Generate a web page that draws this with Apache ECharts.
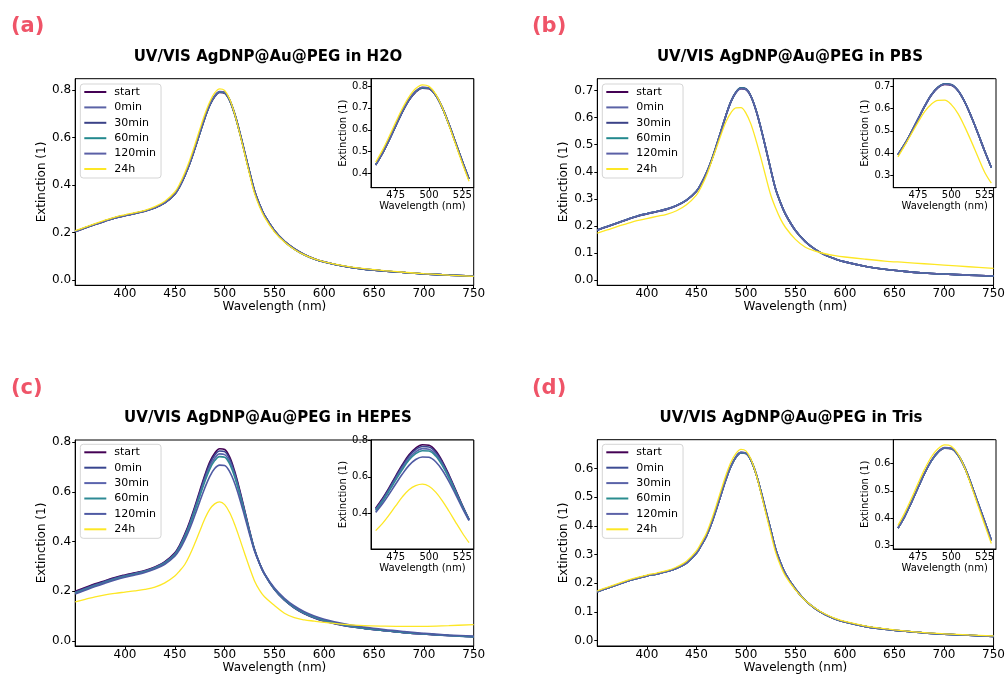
<!DOCTYPE html>
<html><head><meta charset="utf-8">
<script src="https://cdn.jsdelivr.net/npm/echarts@6/dist/echarts.min.js"></script>
<style>html,body{margin:0;padding:0;background:#fff}#c{width:1008px;height:675px}</style>
</head><body><div id="c"></div>
<script>
// ---------- DATA ----------
const wavelengths = [350,360,370,380,390,400,410,420,430,440,450,455,460,465,470,475,480,485,490,495,500,505,510,515,520,525,530,535,540,550,560,570,580,590,600,620,640,660,680,700,725,750];
const seriesNames = ['start','0min','30min','60min','120min','24h'];

// (a) H2O
const a_start = [.204,.219,.234,.248,.261,.271,.280,.290,.304,.325,.362,.395,.439,.491,.552,.617,.681,.735,.772,.790,.787,.757,.700,.624,.540,.456,.376,.319,.273,.209,.164,.132,.108,.090,.077,.058,.046,.038,.032,.026,.021,.017];
const a_0min = [.205,.220,.235,.249,.262,.272,.281,.291,.305,.326,.363,.396,.440,.492,.553,.618,.682,.737,.774,.792,.789,.758,.700,.624,.540,.455,.375,.318,.272,.208,.163,.131,.107,.089,.076,.058,.046,.038,.032,.026,.021,.017];
const a_30min = [.205,.220,.235,.249,.262,.272,.281,.291,.305,.326,.363,.396,.440,.492,.553,.618,.682,.737,.775,.793,.790,.758,.700,.624,.540,.455,.375,.318,.272,.208,.163,.131,.107,.089,.076,.058,.046,.038,.032,.026,.021,.017];
const a_60min = [.205,.220,.235,.249,.262,.272,.281,.291,.305,.326,.363,.396,.440,.492,.553,.618,.682,.737,.774,.792,.789,.758,.700,.624,.540,.455,.375,.318,.272,.208,.163,.131,.107,.089,.076,.058,.046,.038,.032,.026,.021,.017];
const a_120min = [.205,.220,.235,.249,.262,.272,.281,.291,.305,.326,.363,.396,.440,.492,.553,.619,.683,.738,.775,.794,.790,.759,.701,.625,.540,.455,.375,.318,.272,.208,.163,.131,.107,.089,.076,.058,.046,.038,.032,.026,.021,.017];
const a_24h = [.208,.223,.238,.252,.265,.275,.284,.294,.309,.332,.371,.406,.452,.506,.568,.634,.697,.750,.788,.805,.798,.763,.700,.620,.533,.446,.365,.309,.265,.203,.160,.129,.106,.089,.077,.060,.048,.040,.033,.027,.021,.016];

// (b) PBS
const b_start = [.184,.197,.210,.223,.235,.244,.252,.261,.274,.294,.327,.356,.393,.439,.493,.551,.609,.659,.693,.707,.704,.679,.629,.563,.488,.410,.336,.285,.243,.183,.142,.113,.092,.078,.067,.051,.040,.032,.026,.022,.018,.015];
const b_0min = [.185,.198,.211,.224,.236,.245,.253,.262,.275,.295,.328,.357,.394,.440,.494,.552,.610,.660,.694,.709,.706,.680,.630,.563,.488,.410,.336,.285,.243,.183,.142,.113,.092,.078,.067,.051,.040,.032,.026,.022,.018,.015];
const b_30min = [.185,.198,.211,.224,.236,.245,.253,.262,.275,.295,.328,.357,.394,.440,.494,.552,.610,.661,.695,.710,.707,.680,.630,.563,.488,.410,.336,.285,.243,.183,.142,.113,.092,.078,.067,.051,.040,.032,.026,.022,.018,.015];
const b_60min = [.185,.198,.211,.224,.236,.245,.253,.262,.275,.295,.328,.357,.394,.440,.494,.552,.610,.660,.694,.709,.706,.680,.630,.563,.488,.410,.336,.285,.243,.183,.142,.113,.092,.078,.067,.051,.040,.032,.026,.022,.018,.015];
const b_120min = [.185,.198,.211,.224,.236,.245,.253,.262,.275,.295,.328,.357,.394,.440,.494,.552,.610,.660,.693,.708,.705,.680,.630,.563,.488,.410,.336,.285,.243,.183,.142,.113,.092,.078,.067,.051,.040,.032,.026,.022,.018,.015];
const b_24h = [.173,.185,.197,.208,.219,.227,.235,.243,.256,.278,.314,.345,.384,.434,.486,.538,.586,.619,.636,.637,.617,.577,.519,.453,.383,.315,.266,.225,.194,.150,.121,.107,.097,.090,.085,.077,.070,.065,.060,.055,.049,.043];

// (c) HEPES
const c_start = [.200,.215,.230,.243,.256,.266,.275,.284,.298,.319,.355,.387,.430,.481,.540,.604,.666,.720,.756,.774,.771,.741,.684,.610,.528,.445,.369,.314,.270,.208,.165,.134,.111,.094,.081,.063,.051,.042,.034,.028,.022,.017];
const c_0min = [.197,.212,.227,.241,.254,.264,.273,.282,.296,.317,.352,.384,.426,.476,.535,.598,.659,.712,.748,.765,.762,.733,.677,.605,.524,.442,.367,.312,.269,.207,.164,.133,.110,.093,.080,.062,.051,.042,.034,.028,.022,.017];
const c_30min = [.194,.209,.224,.238,.251,.262,.271,.281,.295,.315,.349,.380,.421,.470,.528,.589,.649,.701,.736,.753,.750,.722,.668,.598,.519,.439,.366,.312,.269,.208,.166,.135,.112,.095,.082,.063,.051,.042,.034,.028,.021,.016];
const c_60min = [.192,.207,.222,.236,.249,.260,.269,.279,.293,.313,.346,.377,.417,.465,.522,.582,.640,.691,.726,.742,.740,.713,.661,.593,.516,.438,.366,.313,.270,.210,.168,.137,.114,.097,.084,.065,.052,.043,.035,.029,.022,.017];
const c_120min = [.189,.204,.219,.233,.246,.257,.266,.276,.290,.309,.341,.369,.407,.452,.505,.561,.615,.662,.694,.708,.706,.682,.636,.574,.503,.430,.362,.312,.271,.213,.172,.141,.118,.101,.088,.069,.056,.046,.038,.031,.024,.020];
const c_24h = [.158,.168,.178,.186,.192,.197,.202,.208,.217,.234,.262,.283,.308,.346,.392,.442,.491,.530,.552,.560,.549,.517,.470,.413,.353,.295,.242,.205,.178,.143,.112,.094,.085,.080,.075,.067,.062,.060,.059,.059,.062,.066];

// (d) Tris
const d_start = [.171,.183,.195,.207,.217,.226,.233,.241,.253,.271,.305,.333,.364,.406,.457,.511,.564,.609,.640,.655,.653,.630,.585,.523,.455,.388,.320,.272,.233,.180,.140,.112,.091,.076,.065,.050,.040,.033,.027,.023,.019,.015];
const d_0min = [.171,.183,.195,.207,.217,.226,.233,.241,.253,.271,.305,.333,.364,.406,.457,.511,.564,.609,.641,.656,.654,.630,.585,.523,.455,.388,.320,.272,.233,.180,.140,.112,.091,.076,.065,.050,.040,.033,.027,.023,.019,.015];
const d_30min = [.171,.183,.195,.207,.217,.226,.233,.241,.253,.271,.305,.333,.364,.406,.457,.511,.564,.609,.641,.656,.654,.630,.585,.523,.455,.388,.320,.272,.233,.180,.140,.112,.091,.076,.065,.050,.040,.033,.027,.023,.019,.015];
const d_60min = [.171,.183,.195,.207,.217,.226,.233,.241,.253,.271,.305,.333,.364,.406,.457,.511,.564,.609,.641,.656,.654,.630,.585,.523,.455,.388,.320,.272,.233,.180,.140,.112,.091,.076,.065,.050,.040,.033,.027,.023,.019,.015];
const d_120min = [.171,.183,.195,.207,.217,.226,.233,.241,.253,.271,.305,.333,.364,.406,.457,.511,.564,.610,.642,.657,.655,.631,.585,.523,.455,.388,.320,.272,.233,.180,.140,.112,.091,.076,.065,.050,.040,.033,.027,.023,.019,.015];
const d_24h = [.174,.186,.198,.210,.220,.229,.236,.244,.257,.277,.313,.342,.374,.419,.471,.526,.579,.623,.653,.667,.662,.634,.584,.517,.446,.376,.308,.261,.225,.177,.140,.113,.093,.078,.067,.052,.042,.034,.028,.024,.020,.017];

// tick labels
const mainXTicks = [400,450,500,550,600,650,700,750];
const insetXTicks = [475,500,525];
const aMainYTicks = [0.0,0.2,0.4,0.6,0.8];
const aInsetYTicks = [0.4,0.5,0.6,0.7,0.8];
const bMainYTicks = [0.0,0.1,0.2,0.3,0.4,0.5,0.6,0.7];
const bInsetYTicks = [0.3,0.4,0.5,0.6,0.7];
const cMainYTicks = [0.0,0.2,0.4,0.6,0.8];
const cInsetYTicks = [0.4,0.6,0.8];
const dMainYTicks = [0.0,0.1,0.2,0.3,0.4,0.5,0.6];
const dInsetYTicks = [0.3,0.4,0.5,0.6];
const insetRange = [460, 530];

// ---------- LAYOUT / STYLE ----------
const FONT = 'DejaVu Sans';
const panels = [
  { label:'(a)', title:'UV/VIS AgDNP@Au@PEG in H2O', data:[a_start,a_0min,a_30min,a_60min,a_120min,a_24h],
    colors:['#440154','#5b63a6','#3b4287','#23898e','#5b60a6','#fde725'],
    main:{left:75.2,top:78.7,width:398.5,height:206.6,ymin:-0.022,ymax:0.848,yt:aMainYTicks},
    inset:{left:371,top:78.7,width:102.7,height:109,ymin:0.336,ymax:0.833,yt:aInsetYTicks},
    legend:[80.3,84], titlePos:[268,57.5], labelPos:[11,27] },
  { label:'(b)', title:'UV/VIS AgDNP@Au@PEG in PBS', data:[b_start,b_0min,b_30min,b_60min,b_120min,b_24h],
    colors:['#440154','#5b63a6','#3b4287','#23898e','#5b60a6','#fde725'],
    main:{left:597.3,top:78.7,width:398.7,height:206.6,ymin:-0.0196,ymax:0.744,yt:bMainYTicks},
    inset:{left:893.3,top:78.7,width:102.7,height:109,ymin:0.246,ymax:0.733,yt:bInsetYTicks},
    legend:[602.3,84], titlePos:[790,57.5], labelPos:[532,27] },
  { label:'(c)', title:'UV/VIS AgDNP@Au@PEG in HEPES', data:[c_start,c_0min,c_30min,c_60min,c_120min,c_24h],
    colors:['#440154','#38458f','#5b64ad','#2e8a95','#4f5aa3','#fde725'],
    main:{left:75.2,top:440,width:398.5,height:206,ymin:-0.02,ymax:0.809,yt:cMainYTicks},
    inset:{left:371,top:440,width:102.7,height:109,ymin:0.208,ymax:0.80,yt:cInsetYTicks},
    legend:[80.3,444.3], titlePos:[268,418.5], labelPos:[11,388.5] },
  { label:'(d)', title:'UV/VIS AgDNP@Au@PEG in Tris', data:[d_start,d_0min,d_30min,d_60min,d_120min,d_24h],
    colors:['#440154','#3d4c94','#5a63a8','#2a8d8f','#5c62a8','#fde725'],
    main:{left:597.3,top:439.7,width:398.7,height:206.6,ymin:-0.0185,ymax:0.701,yt:dMainYTicks},
    inset:{left:893.3,top:439.7,width:102.7,height:109.3,ymin:0.288,ymax:0.686,yt:dInsetYTicks},
    legend:[602.3,444.3], titlePos:[791,418.5], labelPos:[532,388.5] }
];

const grid = [], xAxis = [], yAxis = [], series = [], legend = [], graphic = [];
function xAx(gi, min, max, ticks, fs, gap) {
  return { type:'value', gridIndex:gi, min, max,
    axisLine:{show:true, onZero:false, lineStyle:{color:'#000', width:1}},
    splitLine:{show:false},
    axisTick:{show:true, customValues:ticks, length:3, lineStyle:{color:'#000'}},
    axisLabel:{customValues:ticks, margin:3, fontSize:fs, fontFamily:FONT, color:'#000', formatter:v=>String(Math.round(v))},
    name:'Wavelength (nm)', nameLocation:'middle', nameGap:gap,
    nameTextStyle:{fontSize:fs, fontFamily:FONT, color:'#000'} };
}
function yAx(gi, min, max, ticks, fs, gap) {
  return { type:'value', gridIndex:gi, min, max,
    axisLine:{show:true, onZero:false, lineStyle:{color:'#000', width:1}},
    splitLine:{show:false},
    axisTick:{show:true, customValues:ticks, length:3, lineStyle:{color:'#000'}},
    axisLabel:{customValues:ticks, margin:4, fontSize:fs, fontFamily:FONT, color:'#000', formatter:v=>v.toFixed(1)},
    name:'Extinction (1)', nameLocation:'middle', nameGap:gap,
    nameTextStyle:{fontSize:fs, fontFamily:FONT, color:'#000'} };
}

panels.forEach((p, pi) => {
  const gm = pi*2, gi = pi*2+1;
  grid.push({left:p.main.left, top:p.main.top, width:p.main.width, height:p.main.height, show:true, borderColor:'#000', borderWidth:1, backgroundColor:'#fff'});
  grid.push({left:p.inset.left, top:p.inset.top, width:p.inset.width, height:p.inset.height, show:true, borderColor:'#000', borderWidth:1, backgroundColor:'#fff', z:5});
  xAxis.push(xAx(gm, 350, 750, mainXTicks, 12, 16));
  yAxis.push(yAx(gm, p.main.ymin, p.main.ymax, p.main.yt, 12, 27));
  const xi = xAx(gi, 456.5, 533.5, insetXTicks, 10, 14); xi.z = 6;
  const yi = yAx(gi, p.inset.ymin, p.inset.ymax, p.inset.yt, 10, 23); yi.z = 6;
  yi.axisLabel.margin = 3;
  xAxis.push(xi); yAxis.push(yi);
  seriesNames.forEach((n, k) => {
    const arr = p.data[k];
    const full = wavelengths.map((w, i) => [w, arr[i]]);
    const part = full.filter(d => d[0] >= insetRange[0] && d[0] <= insetRange[1]);
    const lw = k === 5 ? 1.3 : 1.6;
    const common = { type:'line', name:n, showSymbol:false, symbol:'none', smooth:0.35, animation:false,
      lineStyle:{width:lw, color:p.colors[k]}, itemStyle:{color:p.colors[k]}, emphasis:{disabled:true}, silent:true };
    series.push(Object.assign({}, common, {xAxisIndex:gm, yAxisIndex:gm, data:full}));
    series.push(Object.assign({}, common, {xAxisIndex:gi, yAxisIndex:gi, data:part, z:7}));
  });
  legend.push({ orient:'vertical', left:p.legend[0], top:p.legend[1], icon:'rect', itemWidth:22, itemHeight:2,
    itemGap:3.4, padding:[2,5,3,4], borderColor:'#d5d5d5', borderWidth:1, borderRadius:3,
    backgroundColor:'rgba(255,255,255,0.85)', selectedMode:false,
    textStyle:{fontSize:11, fontFamily:FONT, color:'#000', lineHeight:12, padding:[0,0,0,3]},
    data: seriesNames.map((n, k) => ({name:n, itemStyle:{color:p.colors[k]}})) });
  graphic.push({type:'text', x:p.titlePos[0], y:p.titlePos[1],
    style:{text:p.title, font:'bold 15px "DejaVu Sans"', fill:'#000', textAlign:'center', textVerticalAlign:'middle'}});
  graphic.push({type:'text', x:p.labelPos[0], y:p.labelPos[1],
    style:{text:p.label, font:'bold 21px "DejaVu Sans"', fill:'#ef5468', textAlign:'left', textVerticalAlign:'middle'}});
});

const chart = echarts.init(document.getElementById('c'), null, {renderer:'canvas'});
chart.setOption({ backgroundColor:'#fff', animation:false, grid, xAxis, yAxis, series, legend, graphic });
</script></body></html>
